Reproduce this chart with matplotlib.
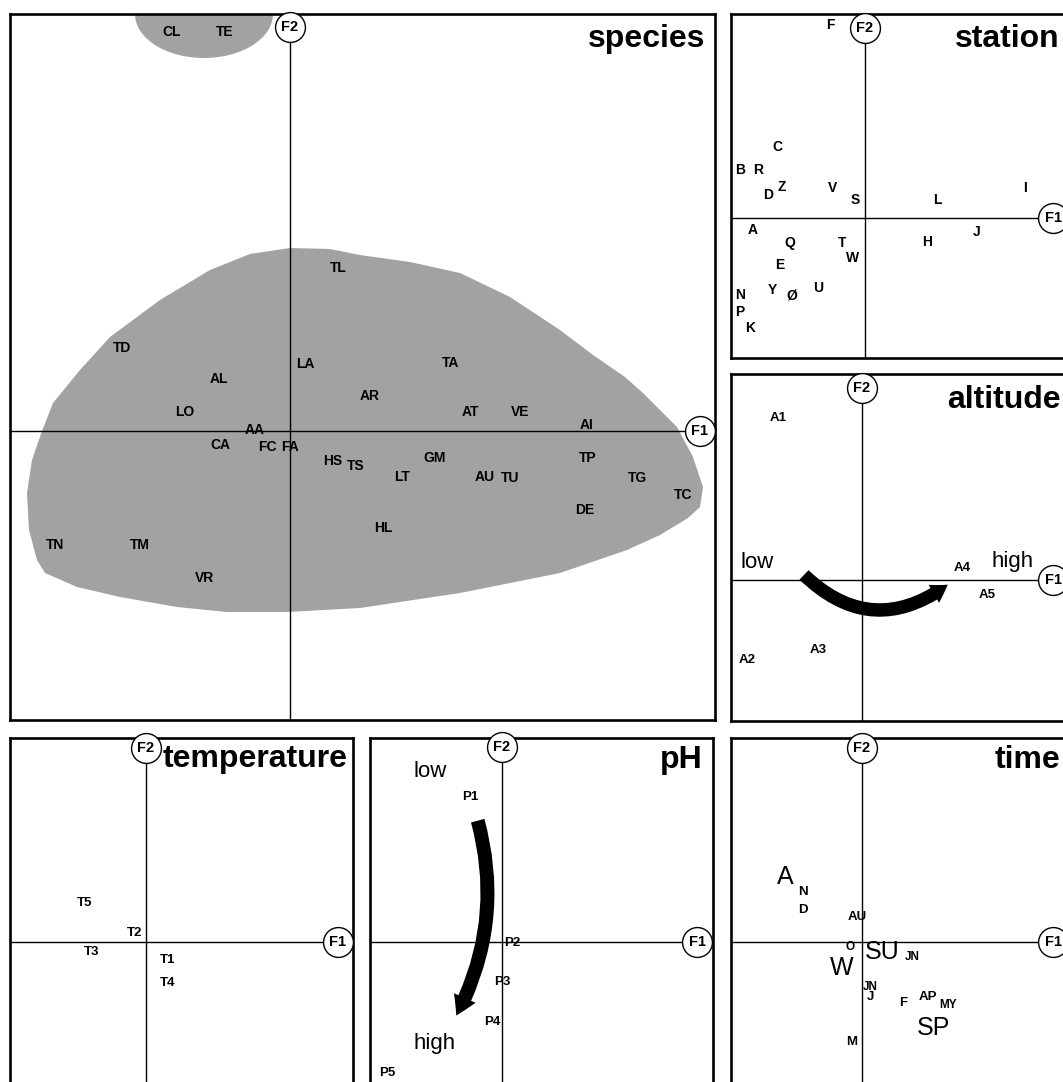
import numpy as np
import matplotlib
matplotlib.use("Agg")
import matplotlib.pyplot as plt
from matplotlib.patches import Polygon, Ellipse, FancyArrowPatch

W, H = 1063, 1082
FONT = "Liberation Sans"
plt.rcParams["font.family"] = [FONT, "DejaVu Sans"]

# ---- species ordination (F1, F2 scores) ----
sp_labels = ["CL", "TE", "TL", "TD", "LA", "AL", "TA", "AR", "LO", "AT", "VE", "AI", "AA", "CA",
             "FC", "FA", "HS", "TS", "GM", "TP", "LT", "AU", "TU", "TG", "TC", "DE", "HL", "TN", "TM", "VR"]
sp_f1 = [-1.18, -0.65, 0.48, -1.68, 0.15, -0.71, 1.61, 0.80, -1.05, 1.80, 2.30, 2.97, -0.35, -0.70,
         -0.23, 0.00, 0.43, 0.66, 1.45, 2.98, 1.12, 1.95, 2.20, 3.47, 3.93, 2.95, 0.93, -2.35, -1.50, -0.85]
sp_f2 = [3.99, 3.99, 1.63, 0.83, 0.67, 0.52, 0.68, 0.35, 0.19, 0.19, 0.19, 0.06, 0.01, -0.14,
         -0.16, -0.16, -0.30, -0.35, -0.27, -0.27, -0.46, -0.46, -0.47, -0.47, -0.64, -0.79, -0.97, -1.14, -1.14, -1.47]

# outline of the main species group (shaded)
blob_f1 = [-2.63, -2.58, -2.48, -2.37, -2.10, -1.80, -1.30, -0.80, -0.40, 0.00, 0.40, 0.70, 1.20, 1.70,
           2.20, 2.70, 3.03, 3.35, 3.53, 3.87, 4.03, 4.13, 4.10, 3.98, 3.70, 3.37, 2.70, 1.70, 0.70,
           -0.03, -0.63, -1.13, -1.70, -2.13, -2.45, -2.53, -2.61]
blob_f2 = [-0.62, -0.29, 0.00, 0.28, 0.61, 0.94, 1.31, 1.61, 1.77, 1.83, 1.82, 1.76, 1.69, 1.58,
           1.34, 1.01, 0.76, 0.54, 0.38, 0.04, -0.26, -0.56, -0.76, -0.87, -1.04, -1.19, -1.42, -1.62, -1.77,
           -1.81, -1.81, -1.76, -1.66, -1.56, -1.42, -1.29, -0.99]
# second group (CL, TE) centre and extent
top_group = (-0.86, 4.17, 1.38, 0.88)

# ---- stations ----
st_labels = ["F", "C", "B", "R", "D", "Z", "V", "S", "L", "I", "A", "Q", "T", "W", "H", "J",
             "E", "N", "Y", "Ø", "U", "P", "K"]
st_f1 = [-0.35, -0.88, -1.25, -1.07, -0.97, -0.83, -0.32, -0.10, 0.72, 1.60, -1.12, -0.75, -0.23, -0.12,
         0.62, 1.12, -0.85, -1.25, -0.93, -0.73, -0.47, -1.25, -1.15]
st_f2 = [1.93, 0.71, 0.48, 0.48, 0.23, 0.31, 0.30, 0.18, 0.18, 0.30, -0.12, -0.25, -0.25, -0.40,
         -0.24, -0.14, -0.47, -0.77, -0.72, -0.77, -0.70, -0.94, -1.10]

# ---- altitude classes ----
alt_labels = ["A1", "A2", "A3", "A4", "A5"]
alt_f1 = [-0.84, -1.15, -0.44, 1.00, 1.25]
alt_f2 = [1.62, -0.80, -0.70, 0.12, -0.15]

# ---- temperature classes ----
tmp_labels = ["T1", "T2", "T3", "T4", "T5"]
tmp_f1 = [0.22, -0.11, -0.54, 0.22, -0.61]
tmp_f2 = [-0.18, 0.09, -0.10, -0.41, 0.39]

# ---- pH classes ----
ph_labels = ["P1", "P2", "P3", "P4", "P5"]
ph_f1 = [-0.32, 0.10, 0.00, -0.10, -1.15]
ph_f2 = [1.45, -0.01, -0.40, -0.80, -1.31]

# ---- time: seasons and months ----
season_labels = ["A", "W", "SU", "SP"]
season_f1 = [-0.77, -0.20, 0.20, 0.71]
season_f2 = [0.65, -0.26, -0.10, -0.86]
month_labels = ["N", "D", "AU", "J", "F", "AP", "M"]
month_f1 = [-0.59, -0.59, -0.05, 0.08, 0.41, 0.66, -0.10]
month_f2 = [0.50, 0.32, 0.25, -0.55, -0.61, -0.55, -1.00]
month2_labels = ["O", "JN", "JN", "MY"]
month2_f1 = [-0.12, 0.50, 0.08, 0.86]
month2_f2 = [-0.05, -0.15, -0.45, -0.63]

fig = plt.figure(figsize=(W / 100, H / 100), dpi=100)


def panel(box, origin):
    l, t, r, b = box
    ox, oy = origin
    ax = fig.add_axes([l / W, 1 - b / H, (r - l) / W, (b - t) / H])
    ax.set_xlim((l - ox) / 100, (r - ox) / 100)
    ax.set_ylim((oy - b) / 100, (oy - t) / 100)
    ax.set_xticks([]); ax.set_yticks([])
    for s in ax.spines.values():
        s.set_linewidth(1.9)
    return ax


def factor_axes(ax, f1_end, f2_end):
    x0 = ax.get_xlim()[0]; y0 = ax.get_ylim()[0]
    ax.plot([x0, f1_end], [0, 0], color="k", lw=1.0, zorder=2)
    ax.plot([0, 0], [y0, f2_end], color="k", lw=1.0, zorder=2)
    for x, y, s in [(f1_end, 0, "F1"), (0, f2_end, "F2")]:
        ax.plot(x, y, "o", ms=21.5, mfc="white", mec="k", mew=1.0, zorder=5, clip_on=False)
        ax.text(x, y, s, ha="center", va="center", fontsize=10.5, fontweight="bold", zorder=6)


def labels(ax, names, xs, ys, size=10, weight="bold"):
    for n, x, y in zip(names, xs, ys):
        ax.text(x, y, n, ha="center", va="center", fontsize=size, fontweight=weight, zorder=4)


def title(ax, s, x, y, ha):
    ax.text(x, y, s, ha=ha, va="baseline", fontsize=23, fontweight="bold", zorder=6)


# species
ax = panel((10, 14, 715, 720), (290, 431))
shade = dict(fc="#a2a2a2", ec="none", lw=0, zorder=1)
ax.add_patch(Polygon(np.column_stack([blob_f1, blob_f2]), closed=True, **shade))
cx, cy, w, h = top_group
ax.add_patch(Ellipse((cx, cy), w, h, **shade))
factor_axes(ax, 4.10, 4.04)
labels(ax, sp_labels, sp_f1, sp_f2, size=10)
title(ax, "species", 4.15, 3.84, "right")

# stations
ax = panel((731, 14, 1085, 358), (865, 218))
factor_axes(ax, 1.88, 1.90)
labels(ax, st_labels, st_f1, st_f2, size=10)
title(ax, "station", 0.90, 1.71, "left")

# altitude
ax = panel((731, 374, 1085, 721), (862, 580))
factor_axes(ax, 1.91, 1.92)
labels(ax, alt_labels, alt_f1, alt_f2, size=9.5)
ax.text(-1.05, 0.18, "low", ha="center", va="center", fontsize=16)
ax.text(1.51, 0.18, "high", ha="center", va="center", fontsize=16)
ax.add_patch(FancyArrowPatch((-0.60, 0.07), (0.88, -0.03), connectionstyle="arc3,rad=0.43",
                             arrowstyle="simple,head_width=1.5,head_length=1.2,tail_width=0.95",
                             mutation_scale=10, color="k", lw=0, zorder=3))
title(ax, "altitude", 0.85, 1.72, "left")

# temperature
ax = panel((10, 738, 353, 1100), (146, 942))
factor_axes(ax, 1.92, 1.94)
labels(ax, tmp_labels, tmp_f1, tmp_f2, size=9.5)
title(ax, "temperature", 2.02, 1.75, "right")

# pH
ax = panel((370, 738, 713, 1100), (502, 942))
factor_axes(ax, 1.95, 1.95)
labels(ax, ph_labels, ph_f1, ph_f2, size=9.5)
ax.text(-0.72, 1.70, "low", ha="center", va="center", fontsize=16)
ax.text(-0.67, -1.01, "high", ha="center", va="center", fontsize=16)
ax.add_patch(FancyArrowPatch((-0.25, 1.24), (-0.47, -0.76), connectionstyle="arc3,rad=-0.2",
                             arrowstyle="simple,head_width=1.7,head_length=1.4,tail_width=1.0",
                             mutation_scale=10, color="k", lw=0, zorder=3))
title(ax, "pH", 2.01, 1.74, "right")

# time
ax = panel((731, 738, 1085, 1100), (862, 942))
factor_axes(ax, 1.91, 1.94)
labels(ax, season_labels, season_f1, season_f2, size=18, weight="normal")
labels(ax, month_labels, month_f1, month_f2, size=9.5)
labels(ax, month2_labels, month2_f1, month2_f2, size=8.5)
title(ax, "time", 1.33, 1.74, "left")

fig.savefig("out.png", dpi=100, facecolor="white")
